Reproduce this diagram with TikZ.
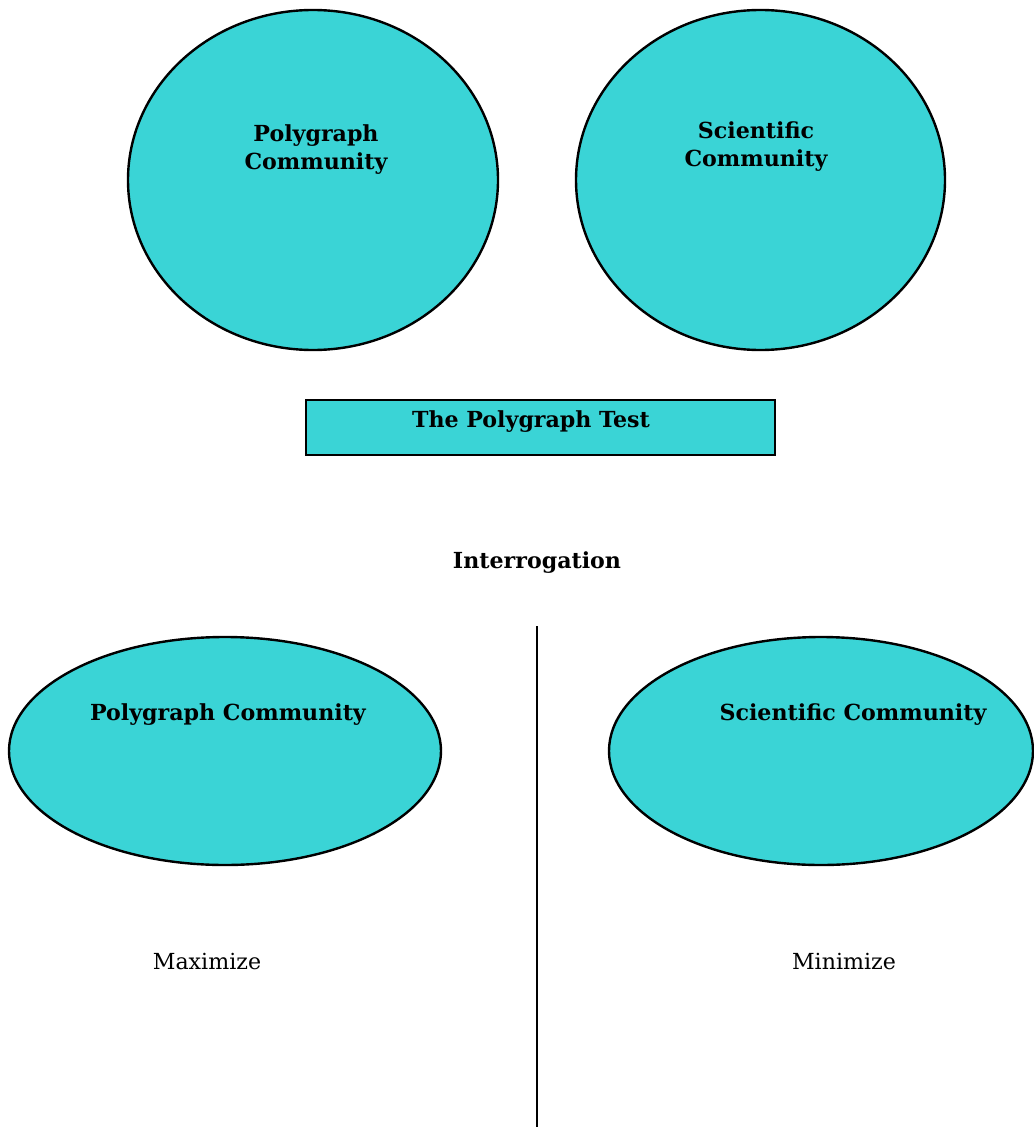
\documentclass[tikz,border=0pt]{standalone}
\usepackage{fontspec}
\setmainfont{DejaVu Serif}
\definecolor{tealfill}{RGB}{58,212,214}
\begin{document}
\begin{tikzpicture}[x=0.75pt,y=-0.75pt,
  blob/.style={draw=black,line width=1.8pt,fill=tealfill},
  heading/.style={font=\fontsize{16.6}{21}\selectfont\bfseries,align=center,inner sep=0pt},
  plain/.style={font=\fontsize{16.6}{21}\selectfont,inner sep=0pt}]
\useasboundingbox (0,0) rectangle (1034,1127);
% upper pair of communities
\draw[blob] (313,180) ellipse [x radius=185,y radius=170];
\draw[blob] (760.5,180) ellipse [x radius=184.5,y radius=170];
\node[heading] (polyA) at (316,149.5) {Polygraph\\Community};
\node[heading] (sciA) at (756,146.5) {Scientific\\Community};
% the test box
\node[blob,rectangle,minimum width=351.75pt,minimum height=41.25pt,inner sep=0pt] (testbox) at (540.5,427.5) {};
\node[heading] (testlbl) at (531,422) {The Polygraph Test};
% interrogation split
\node[heading] (interr) at (537,563) {Interrogation};
\coordinate (divtop) at (537,626);
\coordinate (divbot) at (537,1127);
\draw[line width=1.8pt] (divtop) -- (divbot);
% lower pair of communities
\draw[blob] (225,751) ellipse [x radius=216,y radius=114];
\draw[blob] (821,751) ellipse [x radius=212,y radius=114];
\node[heading] (polyB) at (228,715) {Polygraph Community};
\node[heading] (sciB) at (853,715) {Scientific Community};
\node[plain] (maxi) at (207,962) {Maximize};
\node[plain] (mini) at (844,962) {Minimize};
\end{tikzpicture}
\end{document}
